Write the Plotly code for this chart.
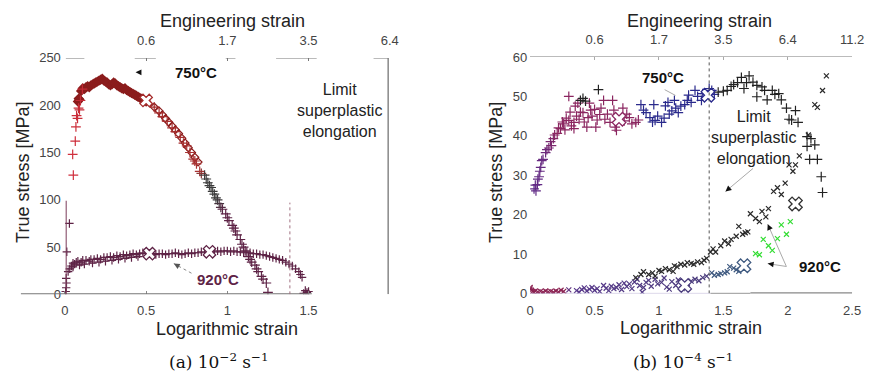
import math
import plotly.graph_objects as go

W, H = 872, 385
def px(x): return x / W
def py(y): return 1 - y / H

# ------------------------------------------------------------------ data
# (a) 10^-2 s^-1, 750 C : crosses (rising part + softening part)
a750_eps = [0.052, 0.048, 0.064, 0.068, 0.072, 0.078, 0.084, 0.09, 0.096, 0.108,
            0.55, 0.58, 0.60, 0.63, 0.66, 0.68, 0.71, 0.73, 0.75, 0.77, 0.79, 0.80,
            0.81, 0.83, 0.84, 0.86, 0.87, 0.88, 0.89, 0.90, 0.91, 0.92, 0.93, 0.94,
            0.95, 0.96, 0.97, 0.99, 1.00, 1.01, 1.03, 1.04, 1.05, 1.06, 1.08, 1.09,
            1.10, 1.11, 1.13, 1.14, 1.15, 1.17, 1.18, 1.19, 1.21, 1.22, 1.24, 1.25]
a750_stress = [126, 148, 162, 177, 189, 186, 197, 195, 205, 217,
               198, 192, 188, 183, 176, 172, 166, 160, 157, 150, 143, 141,
               138, 130, 128, 126, 122, 118, 115, 113, 109, 106, 102, 100,
               96, 92, 90, 85, 81, 78, 73, 70, 67, 63, 58, 53,
               50, 46, 40, 37, 34, 31, 27, 24, 19, 16, 12, 2]
# 750 C : filled diamonds (dense plateau)
a750_dia_eps = [0.08, 0.085, 0.09, 0.10, 0.11, 0.12, 0.13, 0.14, 0.15, 0.16, 0.17, 0.18,
                0.19, 0.20, 0.21, 0.22, 0.23, 0.24, 0.25, 0.26, 0.27, 0.28, 0.29, 0.30,
                0.31, 0.32, 0.33, 0.34, 0.35, 0.36, 0.37, 0.38, 0.39, 0.40, 0.41, 0.42,
                0.43, 0.44, 0.45, 0.46, 0.47, 0.48, 0.49, 0.50]
a750_dia_stress = [204, 207, 206, 215, 218, 217, 219, 220, 219, 221, 222, 223,
                   224, 225, 226, 227, 228, 226, 225, 224, 222, 221, 222, 224,
                   223, 221, 220, 219, 218, 217, 218, 216, 215, 214, 213, 212,
                   211, 210, 209, 208, 207, 206, 205, 204]
# 750 C : open diamonds after the mark
a750_odia_eps = [0.55, 0.58, 0.60, 0.62, 0.64, 0.66, 0.68, 0.70, 0.72, 0.74, 0.76, 0.78, 0.80, 0.82]
a750_odia_stress = [198, 194, 190, 186, 182, 178, 174, 170, 165, 160, 155, 150, 145, 140]
a750_mark_eps = [0.50]
a750_mark_stress = [205]

# (a) 920 C : crosses
a920_eps = [0.005, 0.008, 0.010, 0.008, 0.012, 0.028, 0.020, 0.030, 0.040, 0.050, 0.060,
            0.070, 0.080, 0.10, 0.11, 0.13, 0.15, 0.16, 0.18, 0.20, 0.22, 0.24, 0.26,
            0.28, 0.30, 0.32, 0.34, 0.36, 0.38, 0.40, 0.42, 0.44, 0.46, 0.48, 0.50,
            0.54, 0.56, 0.58, 0.60, 0.62, 0.64, 0.66, 0.68, 0.70, 0.72, 0.74, 0.76,
            0.78, 0.80, 0.82, 0.84, 0.86, 0.92, 0.94, 0.96, 0.98, 1.00, 1.02, 1.04,
            1.06, 1.08, 1.10, 1.12, 1.14, 1.16, 1.18, 1.20, 1.22, 1.24, 1.26, 1.28,
            1.30, 1.32, 1.34, 1.36, 1.38, 1.40, 1.42, 1.44, 1.45, 1.46, 1.47, 1.48,
            1.49, 1.50,
            0.05, 0.09, 0.12, 0.17, 0.21, 0.25, 0.29, 0.33, 0.37, 0.41, 0.45]
a920_stress = [3, 7, 12, 17, 45, 75, 24, 27, 30, 33, 32,
               34, 35, 34, 36, 36, 35, 37, 37, 38, 37, 39, 39,
               40, 39, 41, 40, 42, 41, 42, 43, 42, 43, 44, 43,
               43, 42, 43, 43, 42, 43, 43, 44, 43, 42, 43, 44,
               43, 44, 44, 45, 44, 45, 46, 45, 46, 46, 45, 46,
               45, 45, 44, 45, 44, 43, 43, 42, 42, 41, 40, 39,
               38, 37, 36, 34, 32, 30, 27, 24, 21, 18, 1, 4,
               2, 3,
               29, 31, 32, 33, 34, 35, 36, 37, 38, 39, 40]
a920_mark_eps = [0.52, 0.89]
a920_mark_stress = [43, 45]

# (b) 10^-4 s^-1, 750 C : crosses
b750_eps = [0.03, 0.04, 0.045, 0.056, 0.06, 0.069, 0.075, 0.082, 0.09, 0.10, 0.12, 0.13,
            0.145, 0.158, 0.165, 0.18, 0.19, 0.21, 0.22, 0.235, 0.25, 0.26, 0.27, 0.28,
            0.30, 0.30, 0.31, 0.32, 0.34, 0.34, 0.35, 0.36, 0.37, 0.38, 0.39, 0.41,
            0.42, 0.44, 0.45, 0.46, 0.47, 0.48, 0.50, 0.51, 0.52, 0.54, 0.55, 0.57,
            0.58, 0.60, 0.62, 0.64, 0.65, 0.66, 0.67, 0.72, 0.73, 0.75, 0.77, 0.79,
            0.82, 0.84,
            0.86, 0.88, 0.90, 0.93, 0.95, 0.96, 0.97, 0.99, 1.02, 1.04, 1.05, 1.07,
            1.08, 1.10, 1.12, 1.13, 1.15, 1.17, 1.20, 1.22, 1.23, 1.25, 1.28, 1.30,
            1.33, 1.34, 1.36, 1.39, 1.41, 1.43,
            1.46, 1.50, 1.53, 1.56, 1.58, 1.61, 1.64, 1.66, 1.68, 1.70, 1.73, 1.76,
            1.76, 1.80, 1.82, 1.84, 1.88, 1.90, 1.93, 1.95, 1.99, 2.01, 2.03, 2.06,
            2.08, 2.15, 2.18, 2.15, 2.21, 2.17, 2.23, 2.26, 2.27]
b750_stress = [26.5, 27.5, 26, 27.6, 29, 29.6, 31, 32, 33.7, 34, 35.7, 36.5,
               36.9, 38.5, 37.5, 39.3, 40.2, 40.6, 42, 41.8, 43.5, 43, 41.5, 44.5,
               43.9, 50, 46, 42.5, 43.4, 41.8, 47.5, 45, 48.3, 44.2, 46, 45.9,
               43.5, 42.2, 44.6, 48.3, 46.5, 45, 46.7, 42.2, 44, 45.4, 47, 49,
               44.2, 45.5, 43.4, 49, 46.5, 42.2, 41.4, 47, 43.8, 45.5, 44.6, 43,
               43.4, 44,
               47.9, 46.5, 45.9, 44.6, 43.5, 47.9, 43.9, 45, 43.4, 44.5, 47.6, 48.5,
               45.5, 46.3, 49, 47, 45.9, 47.5, 47.9, 49, 50.3, 48.5, 51.5, 50,
               49, 50.7, 50.7, 52, 51.5, 50.5,
               51.1, 51.3, 51.5, 52.5, 53, 53.5, 54.8, 52, 53.5, 55.2, 53.6, 52.8,
               49.9, 52.4, 51.5, 49.1, 51.5, 50.5, 50.7, 49.1, 47, 44.2, 44, 46.4,
               43.4, 39.8, 39.3, 37.3, 37.7, 34, 34, 29.6, 25.6]
b750_black_eps = [0.39, 0.41, 0.43, 0.53]
b750_black_stress = [49, 49.5, 48.8, 51.7]
b750_mark_eps = [0.69, 1.38]
b750_mark_stress = [44.2, 50.3]

# (b) 920 C : lower series of x marks
b920_eps = [0.00, 0.00, 0.01, 0.02, 0.03, 0.04, 0.06, 0.08, 0.10, 0.12, 0.14, 0.16, 0.18,
            0.20, 0.22, 0.24, 0.26,
            0.30, 0.36, 0.38, 0.40, 0.42, 0.44, 0.46, 0.48, 0.50, 0.52, 0.54, 0.57,
            0.59, 0.61, 0.63, 0.65, 0.67, 0.69, 0.71, 0.73, 0.75, 0.77, 0.79, 0.81,
            0.83, 0.85, 0.87, 0.88, 0.90, 0.92, 0.94, 0.97, 0.99, 1.02, 1.04, 1.06,
            1.08, 1.10, 1.13, 1.15, 1.18, 1.22, 1.25, 1.28, 1.31, 1.34, 1.37,
            1.41, 1.43, 1.46, 1.48, 1.51, 1.53, 1.55, 1.58, 1.60, 1.62]
b920_stress = [1.1, 1.5, 0.8, 0.5, 0.3, 0.6, 0.4, 0.5, 0.3, 0.6, 0.4, 0.5, 0.3,
               0.6, 0.4, 0.8, 0.5,
               0.9, 0.7, 0.3, 1.0, 1.4, 0.6, 1.1, 1.5, 0.8, 1.2, 0.5, 2.0,
               1.3, 0.7, 1.8, 1.2, 1.5, 2.2, 1.0, 2.6, 1.7, 2.4, 1.2, 2.9,
               3.6, 2.0, 0.3, 1.5, 2.8, 3.3, 1.8, 3.6, 2.4, 2.8, 3.9, 1.6,
               1.1, 3.0, 2.0, 3.4, 1.2, 2.5, 3.1, 3.6, 3.2, 4.0, 4.4,
               5.2, 4.6, 4.8, 5.0, 5.2, 5.5, 6.8, 6.4, 6.0, 5.6]
# (b) 920 C : upper (black) series
b920_up_eps = [0.82, 0.86, 0.88, 0.92, 0.95, 0.97, 1.00, 1.02, 1.05, 1.08, 1.11, 1.12,
               1.14, 1.17, 1.20, 1.22, 1.25, 1.27, 1.30, 1.33, 1.35, 1.37, 1.40, 1.42,
               1.44, 1.48, 1.51, 1.54, 1.56, 1.60, 1.62, 1.65, 1.67, 1.69, 1.71, 1.75,
               1.78, 1.80, 1.83, 1.85, 1.89, 1.92, 1.95, 1.98, 2.01, 2.04, 2.06, 2.09,
               2.16, 2.21, 2.23, 2.27, 2.30]
b920_up_stress = [4.0, 4.8, 5.5, 4.8, 5.2, 4.4, 5.8, 5.6, 6.3, 6.0, 5.6, 7.0,
                  6.8, 7.4, 7.2, 7.8, 7.6, 7.4, 8.0, 7.8, 8.4, 8.9, 10.5, 11.3,
                  10.5, 12.1, 13.3, 12.6, 13.7, 14.5, 17.0, 15.0, 15.4, 15.6, 20.2, 19.0,
                  18.2, 20.8, 19.4, 21.5, 25.9, 26.8, 25.1, 28.0, 32.6, 31.0, 32.6, 34.9,
                  40.2, 47.9, 47.2, 51.5, 55.2]
# (b) 920 C : green series
b920_g_eps = [1.75, 1.78, 1.81, 1.85, 1.88, 1.92, 1.95, 1.99, 2.02]
b920_g_stress = [10.1, 9.8, 13.7, 12.1, 10.9, 13.9, 17.4, 15.0, 18.2]
b920_mark_eps = [1.20, 1.66, 2.06]
b920_mark_stress = [2.0, 7.0, 22.7]

# axis ticks
log_ticks_a = [0, 0.5, 1, 1.5]
log_ticks_b = [0, 0.5, 1, 1.5, 2, 2.5]
eng_pos = [0.5, 1.0, 1.5, 2.0, 2.5]
eng_labels = ["0.6", "1.7", "3.5", "6.4", "11.2"]
stress_ticks_a = [0, 50, 100, 150, 200, 250]
stress_ticks_b = [0, 10, 20, 30, 40, 50, 60]
limit_eps = 1.385

# ------------------------------------------------------------------ figure
FONT = "Liberation Sans, Arial, sans-serif"
fig = go.Figure()

def cross(x, y, xa, ya, color, size=7, symbol="cross-thin-open", width=1.2, **kw):
    fig.add_trace(go.Scatter(x=x, y=y, xaxis=xa, yaxis=ya, mode="markers",
                             marker=dict(symbol=symbol, size=size, color=color,
                                         line=dict(width=width), **kw),
                             showlegend=False, hoverinfo="skip"))

# (a)
cross(a920_eps, a920_stress, "x", "y", "#5e2346", size=6)
cross(a750_dia_eps, a750_dia_stress, "x", "y", "#8b1c1c", size=8, symbol="diamond",
      width=0)
cross(a750_odia_eps, a750_odia_stress, "x", "y", "#8b1c1c", size=6, symbol="diamond-open")
cross(a750_eps, a750_stress, "x", "y", a750_eps, size=7,
      colorscale=[[0, "#dc3545"], [0.08, "#c42a35"], [0.4, "#a52a2a"], [0.665, "#a83232"],
                  [0.69, "#3c3c3c"], [0.75, "#3c3c3c"], [0.78, "#5e2346"], [1, "#5e2346"]],
      cmin=0, cmax=1.25)
for ex, ey, col in [(a750_mark_eps, a750_mark_stress, "#a52a2a"),
                    (a920_mark_eps, a920_mark_stress, "#5e2346")]:
    fig.add_trace(go.Scatter(x=ex, y=ey, xaxis="x", yaxis="y", mode="markers",
                             marker=dict(symbol="x", size=11, color="white",
                                         line=dict(width=1.3, color=col)),
                             showlegend=False, hoverinfo="skip"))

# (b)
cross(b920_eps, b920_stress, "x2", "y2", b920_eps, size=5, symbol="x-thin-open",
      colorscale=[[0, "#8b2252"], [0.16, "#8b2252"], [0.18, "#5a3a8c"], [0.81, "#4a3c7c"],
                  [0.83, "#3f5a80"], [1, "#3f5a80"]], cmin=0, cmax=1.7)
cross(b920_up_eps, b920_up_stress, "x2", "y2", "#2a2a2a", size=5, symbol="x-thin-open")
cross(b920_g_eps, b920_g_stress, "x2", "y2", "#33dd33", size=5, symbol="x-thin-open")
cross(b750_eps, b750_stress, "x2", "y2", b750_eps, size=7,
      colorscale=[[0, "#5a2a8a"], [0.05, "#6a2a7e"], [0.09, "#8b2660"], [0.365, "#8b2660"],
                  [0.374, "#2a2a8c"], [0.622, "#2a2a8c"], [0.63, "#222222"], [1, "#222222"]],
      cmin=0, cmax=2.3)
cross(b750_black_eps, b750_black_stress, "x2", "y2", "#222222", size=7)
for ex, ey, cols in [(b750_mark_eps, b750_mark_stress, ["#8b2660", "#2a2a8c"]),
                     (b920_mark_eps, b920_mark_stress, ["#4a3c7c", "#3f5a80", "#333333"])]:
    fig.add_trace(go.Scatter(x=ex, y=ey, xaxis="x2", yaxis="y2", mode="markers",
                             marker=dict(symbol="x", size=12, color="white",
                                         line=dict(width=1.3, color=cols)),
                             showlegend=False, hoverinfo="skip"))
# top axes placeholders
fig.add_trace(go.Scatter(x=[], y=[], xaxis="x3", yaxis="y", showlegend=False))
fig.add_trace(go.Scatter(x=[], y=[], xaxis="x4", yaxis="y2", showlegend=False))

tickfont = dict(family=FONT, size=13, color="#444")
ra = [-0.272, 2.0]
rb = [0, 2.5]
dom_a = [px(17), px(393)]
dom_b = [px(536), px(864)]
ydom_a = [py(299), py(53)]
ydom_b = [py(298), py(52)]

fig.update_layout(
    width=W, height=H, margin=dict(l=0, r=0, t=0, b=0),
    paper_bgcolor="white", plot_bgcolor="white",
    xaxis=dict(domain=dom_a, range=ra, anchor="y", tickvals=log_ticks_a,
               ticks="inside", ticklen=3, tickcolor="#888", showgrid=False,
               zeroline=False, showline=False, tickfont=tickfont, ticklabelstandoff=7),
    yaxis=dict(domain=ydom_a, range=[0, 250], anchor="free", position=px(62),
               tickvals=stress_ticks_a, showgrid=False, zeroline=False, showline=False,
               ticks="", tickfont=tickfont, ticklabelstandoff=4),
    xaxis3=dict(overlaying="x", side="top", anchor="y", range=ra, tickvals=eng_pos[:4],
                ticktext=eng_labels[:4], ticks="inside", ticklen=3, tickcolor="#777",
                showgrid=False, zeroline=False, showline=False, tickfont=tickfont,
                ticklabelstandoff=9),
    xaxis2=dict(domain=dom_b, range=rb, anchor="y2", tickvals=log_ticks_b,
                ticks="", showgrid=False, zeroline=False, showline=False,
                tickfont=tickfont, ticklabelstandoff=8),
    yaxis2=dict(domain=ydom_b, range=[0, 60], anchor="x2", tickvals=stress_ticks_b,
                showgrid=False, zeroline=False, showline=False, ticks="",
                tickfont=tickfont, ticklabelstandoff=2),
    xaxis4=dict(overlaying="x2", side="top", anchor="y2", range=rb, tickvals=eng_pos,
                ticktext=eng_labels, ticks="inside", ticklen=3, tickcolor="#aaa",
                showgrid=False, zeroline=False, showline=True, linecolor="#bbb",
                linewidth=1, tickfont=tickfont, ticklabelstandoff=7),
)

shapes = []
def seg(xr, yr, x0, y0, x1, y1, color, width=1, dash="solid"):
    shapes.append(dict(type="line", xref=xr, yref=yr, x0=x0, y0=y0, x1=x1, y1=y1,
                       line=dict(color=color, width=width, dash=dash), layer="above"))

def head(hx, hy, tx, ty, color="#111", length=6, half=3):
    """Filled triangular arrow head at pixel point (hx, hy), pointing away from (tx, ty)."""
    d = math.hypot(hx - tx, hy - ty) or 1.0
    ux, uy = (hx - tx) / d, (hy - ty) / d
    bx, by = hx - ux * length, hy - uy * length
    p1 = (bx - uy * half, by + ux * half)
    p2 = (bx + uy * half, by - ux * half)
    path = "M {} {} L {} {} L {} {} Z".format(px(hx), py(hy), px(p1[0]), py(p1[1]),
                                              px(p2[0]), py(p2[1]))
    shapes.append(dict(type="path", xref="paper", yref="paper", path=path,
                       fillcolor=color, line=dict(width=0), layer="above"))

def arrow(hx, hy, tx, ty, shaft="#aaa", dash="solid", hcolor="#111"):
    seg("paper", "paper", px(tx), py(ty), px(hx), py(hy), shaft, 1, dash)
    head(hx, hy, tx, ty, hcolor)

# (a) frame pieces
seg("x", "y", -0.272, 0, 1.52, 0, "#777", 2)
seg("x", "y", 1.99, 0, 1.99, 250, "#888", 1.5)
seg("x", "y", 0.008, 0, 0.008, 99, "#7a3a5a", 1)
seg("x", "y", limit_eps, 0, limit_eps, 97, "#a07080", 1, "dot")
for a, b in [(0.006, 0.12), (0.43, 0.56), (0.99, 1.05), (1.30, 1.55), (1.90, 1.99)]:
    seg("x", "y", a, 250, b, 250, "#777", 1.3)
# (b) frame pieces
seg("x2", "y2", 0, 0, 1.40, 0, "#c0b8d8", 1)
seg("x2", "y2", 1.40, 0, 1.71, 0, "#444", 1)
seg("x2", "y2", 1.71, 0, 2.5, 0, "#888", 2.5)
seg("x2", "y2", limit_eps + 0.005, 0, limit_eps + 0.005, 60, "#555", 1, "dot")
# leader (b) 750
seg("paper", "paper", px(673), py(86), px(684), py(92), "#aaa", 1)

# arrows
head(134, 68, 142, 68, "#111", 6, 3)
arrow(173, 267, 191, 277, "#888", "dot", "#555")
arrow(735, 192, 763, 168)
arrow(778, 267, 797, 270)
arrow(778, 226, 797, 270)
fig.update_layout(shapes=shapes)

ann = []
def text(x, y, s, size=16, color="#222", bold=False, family=FONT, **kw):
    if bold:
        s = "<b>" + s + "</b>"
    ann.append(dict(x=px(x), y=py(y), xref="paper", yref="paper", text=s, showarrow=False,
                    font=dict(family=family, size=size, color=color),
                    xanchor="center", yanchor="middle", **kw))

text(233, 15, "Engineering strain", 18)
text(708, 15, "Engineering strain", 18)
text(227, 335, "Logarithmic strain", 18)
text(700, 334, "Logarithmic strain", 18)
text(20, 172, "True stress [MPa]", 18, textangle=-90)
text(501, 172, "True stress [MPa]", 18, textangle=-90)
SERIF = "DejaVu Serif, Liberation Serif, serif"
text(219, 368, "(a) 10<sup>−2</sup> s<sup>−1</sup>", 17, "#111", family=SERIF)
text(692, 368, "(b) 10<sup>−4</sup> s<sup>−1</sup>", 17, "#111", family=SERIF)
text(196, 68, "750°C", 15, "#111", True)
text(218, 284, "920°C", 15, "#5e2346", True)
text(671, 73, "750°C", 15, "#111", True)
text(831, 270, "920°C", 15, "#111", True)
text(342, 108, "Limit<br>superplastic<br>elongation", 16)
text(763, 136, "Limit<br>superplastic<br>elongation", 16)
fig.update_layout(annotations=ann)

fig.write_html("out.html")
